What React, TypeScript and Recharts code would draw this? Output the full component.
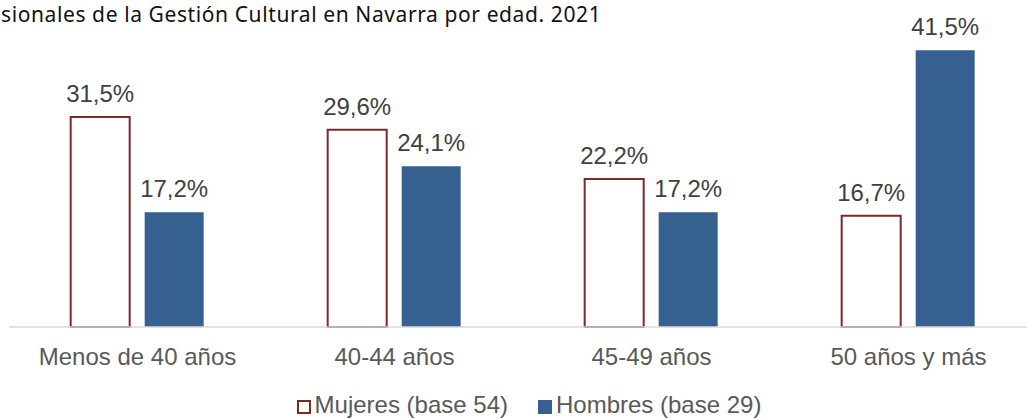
import { BarChart, Bar, XAxis, YAxis, LabelList, Legend } from 'recharts';

const categories = ['Menos de 40 años', '40-44 años', '45-49 años', '50 años y más'];
const mujeres = [31.5, 29.6, 22.2, 16.7];
const hombres = [17.2, 24.1, 17.2, 41.5];
const seriesNames = ['Mujeres (base 54)', 'Hombres (base 29)'];
const title = 'sionales de la Gestión Cultural en Navarra por edad. 2021';

const data = categories.map((c, i) => ({ name: c, mujeres: mujeres[i], hombres: hombres[i] }));

const RED = '#7b2a2a';
const BLUE = '#35608f';
const FONT = '"Liberation Sans", Arial, sans-serif';

const fmt = (v: any) => Number(v).toFixed(1).replace('.', ',') + '%';

function LegendBox() {
  const items = [
    { label: seriesNames[0], fill: '#fff', stroke: RED },
    { label: seriesNames[1], fill: BLUE, stroke: BLUE },
  ];
  return (
    <div style={{ height: 32, display: 'flex', justifyContent: 'center', alignItems: 'flex-end', fontFamily: FONT, fontSize: 24, color: '#595959', paddingLeft: 12 }}>
      {items.map((it, i) => (
        <div key={i} style={{ display: 'flex', alignItems: 'center', marginRight: i === 0 ? 30 : 0, lineHeight: '28px' }}>
          <span style={{ display: 'inline-block', width: 10, height: 10, background: it.fill, border: `2px solid ${it.stroke}`, marginRight: 4, marginTop: 3 }} />
          <span>{it.label}</span>
        </div>
      ))}
    </div>
  );
}

export default function App() {
  return (
    <div style={{ position: 'fixed', left: 0, top: 0, width: 1027, height: 419, overflow: 'hidden', background: '#fff' }}>
      <div style={{ position: 'absolute', left: 1, top: 0, fontFamily: '"Noto Sans", sans-serif', fontSize: 21, letterSpacing: 0.6, color: '#111', whiteSpace: 'nowrap', lineHeight: '29px' }}>
        {title}
      </div>
      <BarChart
        width={1040}
        height={419}
        data={data}
        margin={{ top: 27, right: 3, left: 9, bottom: 0 }}
        barCategoryGap="24%"
        barGap={15}
      >
        <XAxis
          dataKey="name"
          axisLine={{ stroke: '#d9d9d9', strokeWidth: 1.5 }}
          tickLine={false}
          tickSize={6}
          tickMargin={15}
          height={60}
          interval={0}
          tick={{ fill: '#595959', fontSize: 24, fontFamily: FONT }}
        />
        <YAxis hide domain={[0, 45]} />
        <Legend verticalAlign="bottom" height={32} content={() => <LegendBox />} />
        <Bar dataKey="mujeres" fill="#fff" stroke={RED} strokeWidth={2} isAnimationActive={false}>
          <LabelList dataKey="mujeres" position="top" offset={15} formatter={fmt} style={{ fill: '#404040', fontSize: 24, fontFamily: FONT }} />
        </Bar>
        <Bar dataKey="hombres" fill={BLUE} isAnimationActive={false}>
          <LabelList dataKey="hombres" position="top" offset={15} formatter={fmt} style={{ fill: '#404040', fontSize: 24, fontFamily: FONT }} />
        </Bar>
      </BarChart>
    </div>
  );
}
